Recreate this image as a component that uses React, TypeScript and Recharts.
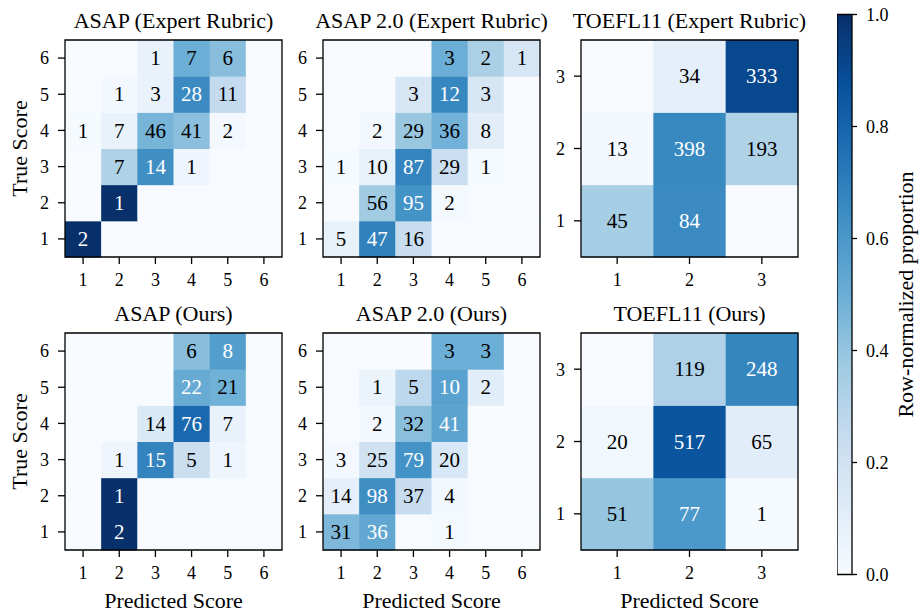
import { ScatterChart, Scatter, XAxis, YAxis, ReferenceArea } from 'recharts';

const FONT = '"Liberation Serif", "Times New Roman", Times, serif';

// matplotlib "Blues" anchor colours (0 → 1)
const BLUES = ['#f7fbff', '#deebf7', '#c6dbef', '#9ecae1', '#6baed6', '#4292c6', '#2171b5', '#08519c', '#08306b'];

// Confusion counts. Row i = true score i+1, column j = predicted score j+1.
const asapExpert = [
  [2, 0, 0, 0, 0, 0],
  [0, 1, 0, 0, 0, 0],
  [0, 7, 14, 1, 0, 0],
  [1, 7, 46, 41, 2, 0],
  [0, 1, 3, 28, 11, 0],
  [0, 0, 1, 7, 6, 0],
];
const asap2Expert = [
  [5, 47, 16, 0, 0, 0],
  [0, 56, 95, 2, 0, 0],
  [1, 10, 87, 29, 1, 0],
  [0, 2, 29, 36, 8, 0],
  [0, 0, 3, 12, 3, 0],
  [0, 0, 0, 3, 2, 1],
];
const toeflExpert = [
  [45, 84, 0],
  [13, 398, 193],
  [0, 34, 333],
];
const asapOurs = [
  [0, 2, 0, 0, 0, 0],
  [0, 1, 0, 0, 0, 0],
  [0, 1, 15, 5, 1, 0],
  [0, 0, 14, 76, 7, 0],
  [0, 0, 0, 22, 21, 0],
  [0, 0, 0, 6, 8, 0],
];
const asap2Ours = [
  [31, 36, 0, 1, 0, 0],
  [14, 98, 37, 4, 0, 0],
  [3, 25, 79, 20, 0, 0],
  [0, 2, 32, 41, 0, 0],
  [0, 1, 5, 10, 2, 0],
  [0, 0, 0, 3, 3, 0],
];
const toeflOurs = [
  [51, 77, 1],
  [20, 517, 65],
  [0, 119, 248],
];

const colorbarTicks = [0, 0.2, 0.4, 0.6, 0.8, 1.0];

function blues(p: number): string {
  const t = Math.max(0, Math.min(1, p)) * (BLUES.length - 1);
  const i = Math.min(Math.floor(t), BLUES.length - 2);
  const f = t - i;
  const a = BLUES[i];
  const b = BLUES[i + 1];
  const ch = (s: string, k: number) => parseInt(s.slice(1 + 2 * k, 3 + 2 * k), 16);
  const mix = [0, 1, 2].map((k) => Math.round(ch(a, k) + (ch(b, k) - ch(a, k)) * f));
  return `rgb(${mix[0]},${mix[1]},${mix[2]})`;
}

function toCells(counts: number[][]) {
  const cells: { x: number; y: number; count: number; p: number }[] = [];
  counts.forEach((row, r) => {
    const total = row.reduce((s, v) => s + v, 0);
    row.forEach((count, c) => {
      cells.push({ x: c + 1, y: r + 1, count, p: total ? count / total : 0 });
    });
  });
  return cells;
}

const PLOT = 217;
const tick = { fill: '#000', fontSize: 18, fontFamily: FONT };
const line = { stroke: '#000', strokeWidth: 1.3 };

interface PanelProps {
  title: string;
  counts: number[][];
  plotLeft: number;
  plotTop: number;
  firstCol: boolean;
  bottomRow: boolean;
}

function Heatmap({ title, counts, plotLeft, plotTop, firstCol, bottomRow }: PanelProps) {
  const n = counts.length;
  const cell = PLOT / n;
  const yW = firstCol ? plotLeft : 40;
  const xH = bottomRow ? 614 - (plotTop + PLOT) : 40;
  const top = 4;
  const ticks = counts.map((_, i) => i + 1);

  const shape = (props: any) => {
    const { cx, cy, payload } = props;
    return (
      <g>
        <rect x={cx - cell / 2} y={cy - cell / 2} width={cell + 0.5} height={cell + 0.5} fill={blues(payload.p)} />
        {payload.count > 0 && (
          <text
            x={cx}
            y={cy}
            dy="0.34em"
            textAnchor="middle"
            fontSize={21}
            fontFamily={FONT}
            fill={payload.p > 0.5 ? '#fff' : '#000'}
          >
            {payload.count}
          </text>
        )}
      </g>
    );
  };

  return (
    <>
      <div
        style={{
          position: 'absolute',
          left: plotLeft - 60,
          width: PLOT + 120,
          top: plotTop - 30,
          textAlign: 'center',
          fontFamily: FONT,
          fontSize: 22,
          lineHeight: '22px',
          whiteSpace: 'nowrap',
          color: '#000',
        }}
      >
        {title}
      </div>
      <div style={{ position: 'absolute', left: plotLeft - yW, top: plotTop - top }}>
        <ScatterChart
          width={yW + PLOT + 4}
          height={top + PLOT + xH}
          margin={{ top, right: 4, bottom: 0, left: 0 }}
        >
          <XAxis
            type="number"
            dataKey="x"
            domain={[0.5, n + 0.5]}
            ticks={ticks}
            interval={0}
            height={xH}
            tick={tick}
            tickSize={7}
            tickMargin={9}
            tickLine={line}
            axisLine={false}
            label={
              bottomRow
                ? { value: 'Predicted Score', position: 'insideBottom', offset: 6, fontSize: 22, fontFamily: FONT, fill: '#000' }
                : undefined
            }
          />
          <YAxis
            type="number"
            dataKey="y"
            domain={[0.5, n + 0.5]}
            ticks={ticks}
            interval={0}
            width={yW}
            tick={tick}
            tickSize={7}
            tickMargin={9}
            tickLine={line}
            axisLine={false}
            label={
              firstCol
                ? {
                    value: 'True Score',
                    angle: -90,
                    position: 'insideLeft',
                    offset: 19,
                    fontSize: 22,
                    fontFamily: FONT,
                    fill: '#000',
                    style: { textAnchor: 'middle' },
                  }
                : undefined
            }
          />
          <Scatter data={toCells(counts)} shape={shape} isAnimationActive={false} />
          <ReferenceArea
            x1={0.5}
            x2={n + 0.5}
            y1={0.5}
            y2={n + 0.5}
            ifOverflow="visible"
            fill="none"
            fillOpacity={0}
            stroke="#000"
            strokeWidth={1.3}
            strokeOpacity={1}
            zIndex={1000}
          />
        </ScatterChart>
      </div>
    </>
  );
}

function Colorbar() {
  const barLeft = 837;
  const barTop = 14.5;
  const barBottom = 574.5;
  const axisW = 921 - 852;
  const stops = BLUES.map((c, i) => ({ offset: i / (BLUES.length - 1), c }));
  const tickPoints = colorbarTicks.map((v) => ({ x: 0.5, v }));
  return (
    <div style={{ position: 'absolute', left: barLeft, top: 0 }}>
      <ScatterChart
        width={15 + axisW}
        height={614}
        margin={{ top: barTop, right: 0, bottom: 614 - barBottom, left: 0 }}
      >
        <defs>
          <linearGradient id="bluesBar" x1="0" y1="1" x2="0" y2="0">
            {stops.map((d) => (
              <stop key={d.offset} offset={d.offset} stopColor={d.c} />
            ))}
          </linearGradient>
        </defs>
        <XAxis type="number" dataKey="x" domain={[0, 1]} hide />
        <YAxis
          type="number"
          dataKey="v"
          orientation="right"
          domain={[0, 1]}
          ticks={colorbarTicks}
          interval={0}
          width={axisW}
          tick={tick}
          tickSize={5}
          tickMargin={9}
          tickLine={line}
          axisLine={false}
          tickFormatter={(v: number) => v.toFixed(1)}
          label={{
            value: 'Row-normalized proportion',
            angle: -90,
            position: 'insideRight',
            offset: 15.5,
            fontSize: 22,
            fontFamily: FONT,
            fill: '#000',
            style: { textAnchor: 'middle' },
          }}
        />
        <Scatter data={tickPoints} shape={() => <g />} isAnimationActive={false} />
        <ReferenceArea
          x1={0}
          x2={1}
          y1={0}
          y2={1}
          ifOverflow="visible"
          fill="url(#bluesBar)"
          fillOpacity={1}
          stroke="#000"
          strokeWidth={1.3}
          strokeOpacity={1}
          zIndex={1000}
        />
      </ScatterChart>
    </div>
  );
}

const COLS = [65, 323, 581];
const ROWS = [40, 333];

export default function App() {
  return (
    <div style={{ position: 'absolute', left: 0, top: 0, width: 921, height: 614, background: '#fff', overflow: 'hidden' }}>
      <Heatmap title="ASAP (Expert Rubric)" counts={asapExpert} plotLeft={COLS[0]} plotTop={ROWS[0]} firstCol bottomRow={false} />
      <Heatmap title="ASAP 2.0 (Expert Rubric)" counts={asap2Expert} plotLeft={COLS[1]} plotTop={ROWS[0]} firstCol={false} bottomRow={false} />
      <Heatmap title="TOEFL11 (Expert Rubric)" counts={toeflExpert} plotLeft={COLS[2]} plotTop={ROWS[0]} firstCol={false} bottomRow={false} />
      <Heatmap title="ASAP (Ours)" counts={asapOurs} plotLeft={COLS[0]} plotTop={ROWS[1]} firstCol bottomRow />
      <Heatmap title="ASAP 2.0 (Ours)" counts={asap2Ours} plotLeft={COLS[1]} plotTop={ROWS[1]} firstCol={false} bottomRow />
      <Heatmap title="TOEFL11 (Ours)" counts={toeflOurs} plotLeft={COLS[2]} plotTop={ROWS[1]} firstCol={false} bottomRow />
      <Colorbar />
    </div>
  );
}
